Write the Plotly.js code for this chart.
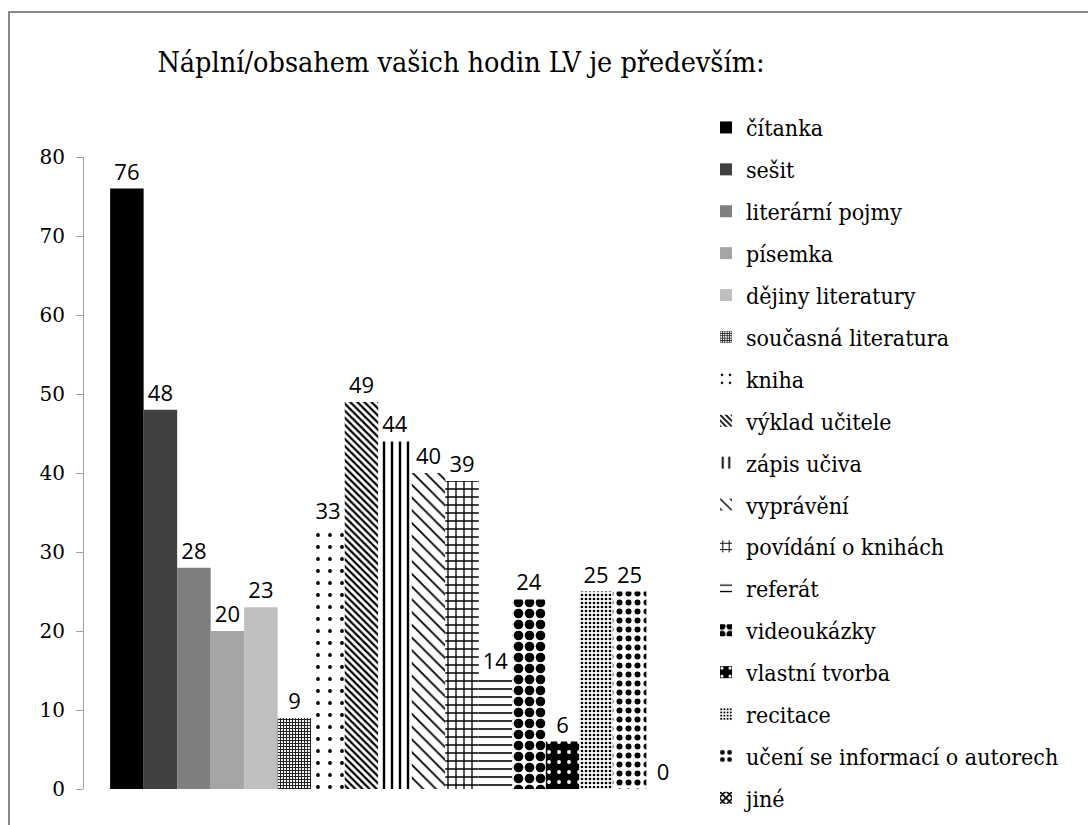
<!DOCTYPE html>
<html>
<head>
<meta charset="utf-8">
<script src="https://cdn.plot.ly/plotly-3.0.1.min.js"></script>
<style>
html,body{margin:0;padding:0;background:#fff;overflow:hidden;}
#frame{position:absolute;left:8px;top:11px;width:1200px;height:1000px;border-left:2px solid #888;border-top:2px solid #888;box-sizing:border-box;}
#chart{position:absolute;left:0;top:0;width:1088px;height:825px;}
</style>
</head>
<body>
<div id="frame"></div>
<div id="chart"></div>
<script>
// Data
const seriesNames = ["čítanka","sešit","literární pojmy","písemka","dějiny literatury","současná literatura","kniha","výklad učitele","zápis učiva","vyprávění","povídání o knihách","referát","videoukázky","vlastní tvorba","recitace","učení se informací o autorech","jiné"];
const seriesValues = [76,48,28,20,23,9,33,49,44,40,39,14,24,6,25,25,0];
const category = [""];
const yTicks = [0,10,20,30,40,50,60,70,80];

// Styles per series
const styles = [
  {color:"#000000"},
  {color:"#404040"},
  {color:"#7f7f7f"},
  {color:"#a5a5a5"},
  {color:"#bfbfbf"},
  {color:"#ffffff", pattern:{shape:"+", size:3, solidity:0.6, fgcolor:"#222", bgcolor:"#ffffff"}},
  {color:"#ffffff", pattern:{shape:".", size:12, solidity:0.08, fgcolor:"#000", bgcolor:"#ffffff"}},
  {color:"#ffffff", pattern:{shape:"\\", size:5, solidity:0.45, fgcolor:"#000", bgcolor:"#ffffff"}},
  {color:"#ffffff", pattern:{shape:"|", size:8, solidity:0.3, fgcolor:"#000", bgcolor:"#ffffff"}},
  {color:"#ffffff", pattern:{shape:"\\", size:9, solidity:0.2, fgcolor:"#000", bgcolor:"#ffffff"}},
  {color:"#ffffff", pattern:{shape:"+", size:8, solidity:0.3, fgcolor:"#000", bgcolor:"#ffffff"}},
  {color:"#ffffff", pattern:{shape:"-", size:8, solidity:0.2, fgcolor:"#000", bgcolor:"#ffffff"}},
  {color:"#ffffff", pattern:{shape:".", size:11, solidity:0.6, fgcolor:"#000", bgcolor:"#ffffff"}},
  {color:"#000000", pattern:{shape:".", size:10, solidity:0.12, fgcolor:"#ffffff", bgcolor:"#000000"}},
  {color:"#ffffff", pattern:{shape:".", size:4, solidity:0.35, fgcolor:"#000", bgcolor:"#ffffff"}},
  {color:"#ffffff", pattern:{shape:".", size:9, solidity:0.35, fgcolor:"#000", bgcolor:"#ffffff"}},
  {color:"#ffffff", pattern:{shape:"x", size:6, solidity:0.6, fgcolor:"#000", bgcolor:"#ffffff"}}
];

const SERIF = "DejaVu Serif";
const SERIFC = "DejaVu Serif Condensed, DejaVu Serif";
const SANS = "Open Sans";

const traces = seriesNames.map((name, i) => {
  const st = styles[i];
  const marker = {color: st.color, line:{width:0}};
  if (st.pattern) marker.pattern = st.pattern;
  return {
    type: "bar",
    name: name,
    x: category,
    y: [seriesValues[i]],
    text: [String(seriesValues[i])],
    textposition: "outside",
    textfont: {family: SANS, size: 22, color: "#000"},
    cliponaxis: false,
    constraintext: "none",
    marker: marker,
    legendgroup: "g" + i,
    hoverinfo: "name+y"
  };
});

const L = 84, R = 748, T = 157, B = 789;

const layout = {
  width: 1088, height: 825,
  paper_bgcolor: "rgba(0,0,0,0)", plot_bgcolor: "rgba(0,0,0,0)",
  margin: {l: L, r: 1088 - R, t: T, b: 825 - B, pad: 0},
  barmode: "group",
  bargap: 0.084,
  bargroupgap: 0,
  showlegend: true,
  title: {
    text: "Náplní/obsahem vašich hodin LV je především:",
    font: {family: SERIFC, size: 28.5, color: "#000"},
    xref: "container", yref: "container",
    x: 461/1088, xanchor: "center",
    y: 1 - 62/825, yanchor: "middle"
  },
  xaxis: {
    showticklabels: false, showline: false, showgrid: false, zeroline: false, ticks: ""
  },
  yaxis: {
    range: [0, 80],
    tickvals: yTicks,
    ticktext: yTicks.map(String),
    showline: true, linecolor: "#a0a0a0", linewidth: 1,
    ticks: "outside", ticklen: 7, tickcolor: "#a0a0a0", tickwidth: 1,
    showgrid: false, zeroline: false,
    tickfont: {family: SERIF, size: 20, color: "#000"},
    ticklabelstandoff: 7
  },
  legend: {
    xref: "container", yref: "container",
    x: 706/1088, xanchor: "left",
    y: 1 - 106/825, yanchor: "top",
    font: {family: SERIFC, size: 23, color: "#000"},
    tracegroupgap: 9,
    traceorder: "grouped",
    itemwidth: 30,
    maxheight: 780,
    bgcolor: "rgba(0,0,0,0)"
  }
};

Plotly.newPlot("chart", traces, layout, {displayModeBar: false, staticPlot: true});
</script>
</body>
</html>
